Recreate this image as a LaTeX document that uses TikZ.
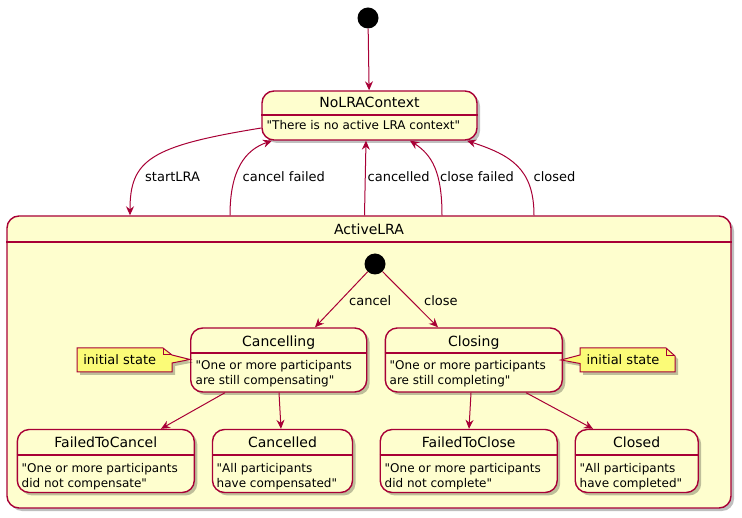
\documentclass[tikz,border=0pt]{standalone}
\usepackage{fontspec}
\setmainfont{DejaVu Sans}[Ligatures=TeXOff]
\usetikzlibrary{arrows.meta,shadows,calc}
\definecolor{pborder}{HTML}{A80036}
\definecolor{pfill}{HTML}{FEFECE}
\definecolor{nfill}{HTML}{FBFB77}
\tikzset{
  shd/.style={drop shadow={shadow xshift=3pt,shadow yshift=-3pt,opacity=0.25,fill=black}},
  statebox/.style={draw=pborder, fill=pfill, line width=1.4pt, rounded corners=12pt, inner sep=0pt, shd},
  sepline/.style={draw=pborder, line width=1.4pt},
  ttl/.style={font=\fontsize{14}{16}\selectfont, inner sep=0pt, anchor=base},
  desc/.style={font=\fontsize{12}{15}\selectfont, align=left, anchor=north west, inner sep=0pt},
  lbl/.style={font=\fontsize{13}{15}\selectfont, inner sep=0pt, anchor=west},
  arr/.style={draw=pborder, line width=1pt, -{Stealth[length=9pt,width=8pt,inset=3pt]}},
  startdot/.style={circle, fill=black, inner sep=0pt, minimum size=21pt},
  notebox/.style={draw=pborder, fill=nfill, line width=1pt, shd},
  notetext/.style={font=\fontsize{13}{15}\selectfont, inner sep=0pt}
}
\begin{document}
\begin{tikzpicture}[x=1pt,y=-1pt]
\useasboundingbox[fill=white] (0,0) rectangle (742,518);

% top initial and NoLRAContext
\node[startdot] (init1) at (368,18) {};
\node[statebox, minimum width=215pt, minimum height=49pt] (nolra) at (369.5,115.5) {};
\draw[sepline] (nolra.west |- 0,115) -- (nolra.east |- 0,115);
\node[ttl] (nolrat) at (369.5,108) {NoLRAContext};
\node[desc] (nolrad) at (266.5,120) {"There is no active LRA context"};

% ActiveLRA container
\node[statebox, minimum width=724pt, minimum height=292pt] (active) at (369,362) {};
\draw[sepline] (active.west |- 0,242) -- (active.east |- 0,242);
\node[ttl] (activet) at (369,235) {ActiveLRA};

% inner states
\node[startdot] (init2) at (375,264) {};

\node[statebox, minimum width=176pt, minimum height=64pt] (cancelling) at (278.7,360) {};
\draw[sepline] (cancelling.west |- 0,353) -- (cancelling.east |- 0,353);
\node[ttl] (cancellingt) at (278.7,346.5) {Cancelling};
\node[desc] (cancellingd) at (195.5,360) {"One or more participants\\are still compensating"};

\node[statebox, minimum width=177pt, minimum height=64pt] (closing) at (473.8,360) {};
\draw[sepline] (closing.west |- 0,353) -- (closing.east |- 0,353);
\node[ttl] (closingt) at (473.8,346.5) {Closing};
\node[desc] (closingd) at (389.5,360) {"One or more participants\\are still completing"};

\node[statebox, minimum width=177pt, minimum height=63pt] (ftc) at (105.8,461) {};
\draw[sepline] (ftc.west |- 0,455) -- (ftc.east |- 0,455);
\node[ttl] (ftct) at (105.8,447.3) {FailedToCancel};
\node[desc] (ftcd) at (21.5,463) {"One or more participants\\did not compensate"};

\node[statebox, minimum width=140pt, minimum height=63pt] (cancelled) at (282.5,461) {};
\draw[sepline] (cancelled.west |- 0,455) -- (cancelled.east |- 0,455);
\node[ttl] (cancelledt) at (282.5,447.3) {Cancelled};
\node[desc] (cancelledd) at (216.5,463) {"All participants\\have compensated"};

\node[statebox, minimum width=177pt, minimum height=63pt] (ftcl) at (468.7,461) {};
\draw[sepline] (ftcl.west |- 0,455) -- (ftcl.east |- 0,455);
\node[ttl] (ftclt) at (468.7,447.3) {FailedToClose};
\node[desc] (ftcld) at (384.5,463) {"One or more participants\\did not complete"};

\node[statebox, minimum width=123pt, minimum height=63pt] (closed) at (636.7,461) {};
\draw[sepline] (closed.west |- 0,455) -- (closed.east |- 0,455);
\node[ttl] (closedt) at (636.7,447.3) {Closed};
\node[desc] (closedd) at (579.5,463) {"All participants\\have completed"};

% notes
\draw[notebox] (77,348) -- (163,348) -- (172,355) -- (190,359.5) -- (172,363) -- (172,372) -- (77,372) -- cycle;
\draw[draw=pborder, line width=1pt] (163,348) -- (163,355) -- (172,355);
\node[notetext] (note1) at (119.7,360) {initial state};

\draw[notebox] (580,348) -- (666,348) -- (675,356) -- (675,372) -- (580,372) -- (580,363.5) -- (561,360) -- (580,355) -- cycle;
\draw[draw=pborder, line width=1pt] (666,348) -- (666,356) -- (675,356);
\node[notetext] (note2) at (623,360) {initial state};

% outer edges
\draw[arr] (init1) -- (nolra);
\draw[arr] (262,128 -| nolra.west) .. controls (150,146) and (130,160) .. (130,0 |- active.north);
\draw[arr] (230,0 |- active.north) .. controls (230,170) and (245,150) .. (272,0 |- nolra.south);
\draw[arr] (364.5,0 |- active.north) -- (366,0 |- nolra.south);
\draw[arr] (442,0 |- active.north) .. controls (442,172) and (432,155) .. (410,0 |- nolra.south);
\draw[arr] (534,0 |- active.north) .. controls (534,168) and (510,155) .. (467,0 |- nolra.south);

\node[lbl] (l1) at (145,177) {startLRA};
\node[lbl] (l2) at (242.5,177) {cancel failed};
\node[lbl] (l3) at (367.5,177) {cancelled};
\node[lbl] (l4) at (440,177) {close failed};
\node[lbl] (l5) at (533.5,177) {closed};

% inner edges
\draw[arr] (init2) -- (315,0 |- cancelling.north);
\draw[arr] (init2) -- (438,0 |- closing.north);
\node[lbl] (l6) at (349,301) {cancel};
\node[lbl] (l7) at (424,301) {close};

\draw[arr] (225,0 |- cancelling.south) -- (161,0 |- ftc.north);
\draw[arr] (279,0 |- cancelling.south) -- (281,0 |- cancelled.north);
\draw[arr] (471,0 |- closing.south) -- (469,0 |- ftcl.north);
\draw[arr] (526,0 |- closing.south) -- (593,0 |- closed.north);
\end{tikzpicture}
\end{document}
